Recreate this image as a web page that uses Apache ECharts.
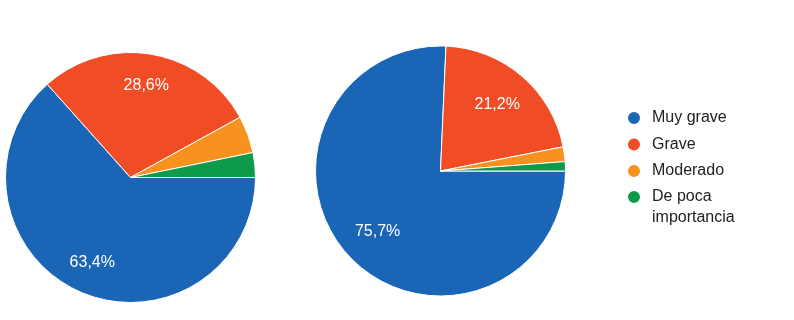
<!DOCTYPE html>
<html>
<head>
<meta charset="utf-8">
<script src="https://cdn.jsdelivr.net/npm/echarts@6/dist/echarts.min.js"></script>
<style>html,body{margin:0;padding:0;background:#fff}#c{width:794px;height:320px}</style>
</head>
<body>
<div id="c"></div>
<script>
const categories = ['Muy grave', 'Grave', 'Moderado', 'De poca importancia'];
const valuesLeft = [63.4, 28.6, 4.8, 3.2];
const valuesRight = [75.7, 21.2, 1.9, 1.2];
const colors = ['#1a65b6', '#f04c25', '#f7921f', '#0e9a4b'];
const labelMin = 10;

const fmt = p => p.value >= labelMin ? p.value.toFixed(1).replace('.', ',') + '%' : '';
const font = 'Arial, "Liberation Sans", sans-serif';

function pieSeries(vals, center, labelR) {
  const data = categories.map((n, i) => ({ name: n, value: vals[i] }));
  return [
    {
      type: 'pie', center: center, radius: [0, 125], startAngle: 0, clockwise: true,
      animation: false, avoidLabelOverlap: false,
      itemStyle: { borderColor: '#fff', borderWidth: 1 },
      label: { show: false }, labelLine: { show: false },
      data: data
    },
    {
      type: 'pie', center: center, radius: [0, labelR], startAngle: 0, clockwise: true,
      animation: false, silent: true, avoidLabelOverlap: false, legendHoverLink: false,
      itemStyle: { color: 'rgba(0,0,0,0)', borderWidth: 0 },
      label: { show: true, position: 'inside', formatter: fmt, color: '#fff', fontSize: 16, fontFamily: font },
      labelLine: { show: false },
      emphasis: { disabled: true },
      data: data
    }
  ];
}

const legendBase = {
  orient: 'vertical', left: 621,
  icon: 'circle', itemWidth: 14, itemHeight: 14, itemGap: 8.5,
  selectedMode: false,
  textStyle: { color: '#222', fontSize: 16, fontFamily: font, lineHeight: 18, padding: [0, 0, 0, 6] }
};

const chart = echarts.init(document.getElementById('c'));
chart.setOption({
  color: colors,
  animation: false,
  legend: [
    Object.assign({}, legendBase, { top: 104, data: categories.slice(0, 3) }),
    Object.assign({}, legendBase, {
      top: 160.5, data: categories.slice(3),
      textStyle: Object.assign({}, legendBase.textStyle, { lineHeight: 21 }),
      formatter: n => ' \n' + n.replace('De poca ', 'De poca\n')
    })
  ],
  series: [].concat(pieSeries(valuesLeft, [130.5, 177.5], 181), pieSeries(valuesRight, [440.5, 171], 168))
});
</script>
</body>
</html>
